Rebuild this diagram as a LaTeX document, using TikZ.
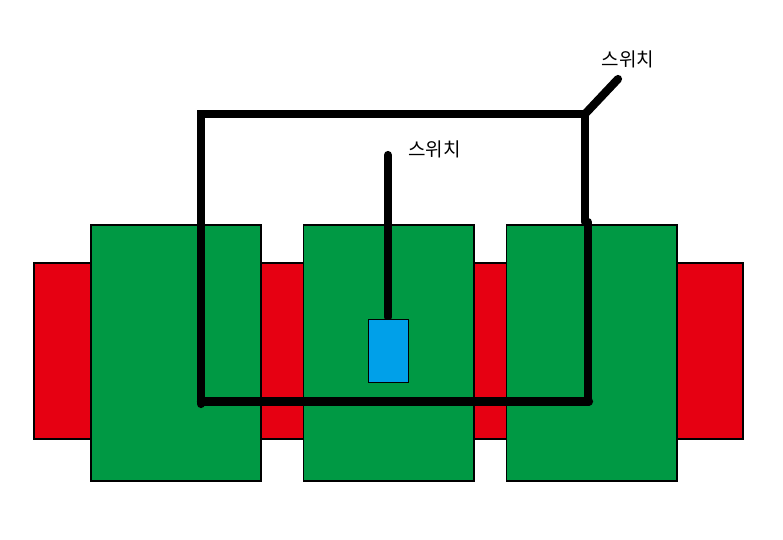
\documentclass[tikz,border=0pt]{standalone}
\usepackage{fontspec}
\newfontfamily\cjk{Noto Sans CJK KR}
\definecolor{rd}{RGB}{230,0,18}
\definecolor{gn}{RGB}{0,153,68}
\definecolor{bl}{RGB}{0,160,233}
\tikzset{
  block/.style={draw=black,line width=1.5pt,minimum width=#1,inner sep=0pt,anchor=north west},
  redblock/.style={block=#1,fill=rd,minimum height=176pt},
  greenblock/.style={block=#1,fill=gn,minimum height=256pt},
  wire/.style={line width=8.2pt,line cap=round,line join=miter},
  lbl/.style={font=\cjk\fontsize{19}{19}\selectfont,inner sep=0pt}
}
\begin{document}
\begin{tikzpicture}[x=1pt,y=-1pt]
\useasboundingbox (0,0) rectangle (783,539);
\fill[white] (0,0) rectangle (783,539);
\node[redblock=57pt] (r1) at (33.2,262.2) {};
\node[redblock=50pt] (r2) at (255,262.2) {};
\node[redblock=40pt] (r3) at (469,262.2) {};
\node[redblock=66pt] (r4) at (676.2,262.2) {};
\node[greenblock=170pt] (g1) at (90.2,224.2) {};
\node[greenblock=170.6pt] (g2) at (302.8,224.2) {};
\node[greenblock=170.6pt] (g3) at (505.8,224.2) {};
\coordinate (tl) at (201,114);
\coordinate (tr) at (585,114);
\coordinate (sw) at (618,79);
\coordinate (bl) at (201,404);
\coordinate (br) at (589,401.5);
\coordinate (rm) at (588,222);
\coordinate (rt) at (585,222);
\coordinate (bj) at (201,401.5);
\coordinate (mt) at (388,155);
\coordinate (mb) at (388,317);
\draw[wire] (sw) -- (tr);
\draw[wire] (bl) -- (tl) -- (tr) -- (rt);
\draw[wire] (rm) -- (588,401.5);
\draw[wire] (br) -- (bj);
\draw[wire] (mt) -- (mb);
\node[block=40pt,fill=bl,minimum height=63pt,line width=1pt] (sensor) at (368,319) {};
\node[lbl] (s1) at (628,59) {스위치};
\node[lbl] (s2) at (434.5,149) {스위치};
\end{tikzpicture}
\end{document}
